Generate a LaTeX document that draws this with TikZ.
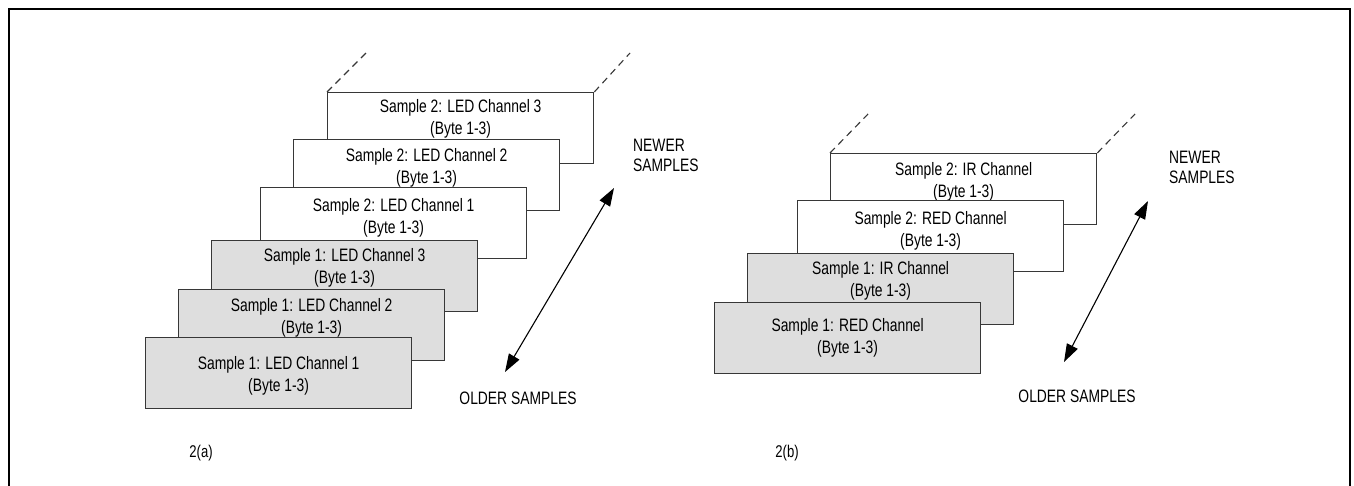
\documentclass[tikz,border=0pt]{standalone}
\usepackage{fontspec}
\setmainfont{Liberation Sans}
\newfontfamily\narrowfont[FakeStretch=0.77]{Liberation Sans}
\usetikzlibrary{arrows.meta}
\definecolor{boxline}{RGB}{55,55,55}
\definecolor{boxfill}{RGB}{222,222,222}
\tikzset{
  sbox/.style={rectangle, draw=boxline, line width=1.3pt, fill=white,
    minimum width=266pt, minimum height=71pt, inner sep=0pt, anchor=north west},
  gbox/.style={sbox, fill=boxfill},
  btxt/.style={anchor=north, inner sep=0pt, align=center,
    font=\narrowfont\fontsize{18}{22}\selectfont},
  ltxt/.style={inner sep=0pt, align=left, anchor=west,
    font=\narrowfont\fontsize{18}{20}\selectfont},
  ctxt/.style={inner sep=0pt, font=\narrowfont\fontsize{18}{20}\selectfont},
  figlbl/.style={inner sep=0pt, font=\narrowfont\fontsize{17}{19}\selectfont},
  dashline/.style={draw=boxline, line width=1.1pt, dash pattern=on 7pt off 5pt},
  dblarrow/.style={draw=black, line width=1.1pt,
    {Triangle[length=18pt,width=12pt]}-{Triangle[length=18pt,width=12pt]}}
}
\begin{document}
\begin{tikzpicture}[x=1pt,y=-1pt]
\useasboundingbox (0,0) rectangle (1354,485);
% outer frame
\draw[line width=2pt] (8.5,486) -- (8.5,8.5) -- (1350,8.5) -- (1350,486);

% ---------- 2(a) ----------
\node[sbox] (a6) at (327,92) {};
\node[btxt] (ta6) at ([yshift=-7.5pt]a6.north) {Sample 2: LED Channel 3\\(Byte 1-3)};
\node[sbox] (a5) at (293,139) {};
\node[btxt] (ta5) at ([yshift=-9.5pt]a5.north) {Sample 2: LED Channel 2\\(Byte 1-3)};
\node[sbox] (a4) at (260,187) {};
\node[btxt] (ta4) at ([yshift=-11.5pt]a4.north) {Sample 2: LED Channel 1\\(Byte 1-3)};
\node[gbox] (a3) at (211,240) {};
\node[btxt] (ta3) at ([yshift=-8.5pt]a3.north) {Sample 1: LED Channel 3\\(Byte 1-3)};
\node[gbox] (a2) at (178,289) {};
\node[btxt] (ta2) at ([yshift=-9.5pt]a2.north) {Sample 1: LED Channel 2\\(Byte 1-3)};
\node[gbox] (a1) at (145,337) {};
\node[btxt] (ta1) at ([yshift=-19.5pt]a1.north) {Sample 1: LED Channel 1\\(Byte 1-3)};

\coordinate (da1) at (366,53);
\coordinate (da2) at (630,53);
\draw[dashline] (a6.north west) -- (da1);
\draw[dashline] (a6.north east) -- (da2);

\coordinate (aold) at (505,372);
\coordinate (anew) at (614,188);
\draw[dblarrow] (aold) -- (anew);

\node[ltxt] (newa) at (633,155) {NEWER\\SAMPLES};
\node[ctxt] (olda) at (518,398) {OLDER SAMPLES};
\node[figlbl] (lbla) at (201,453) {2(a)};

% ---------- 2(b) ----------
\node[sbox] (b4) at (830,153) {};
\node[btxt] (tb4) at ([yshift=-9.5pt]b4.north) {Sample 2: IR Channel\\(Byte 1-3)};
\node[sbox] (b3) at (797,200) {};
\node[btxt] (tb3) at ([yshift=-11.5pt]b3.north) {Sample 2: RED Channel\\(Byte 1-3)};
\node[gbox] (b2) at (747,253) {};
\node[btxt] (tb2) at ([yshift=-8.5pt]b2.north) {Sample 1: IR Channel\\(Byte 1-3)};
\node[gbox] (b1) at (714,302) {};
\node[btxt] (tb1) at ([yshift=-16.5pt]b1.north) {Sample 1: RED Channel\\(Byte 1-3)};

\coordinate (db1) at (868,114);
\coordinate (db2) at (1135,114);
\draw[dashline] (b4.north west) -- (db1);
\draw[dashline] (b4.north east) -- (db2);

\coordinate (bold) at (1064,362);
\coordinate (bnew) at (1148,201);
\draw[dblarrow] (bold) -- (bnew);

\node[ltxt] (newb) at (1169,167) {NEWER\\SAMPLES};
\node[ctxt] (oldb) at (1077,396) {OLDER SAMPLES};
\node[figlbl] (lblb) at (787,453) {2(b)};
\end{tikzpicture}
\end{document}
